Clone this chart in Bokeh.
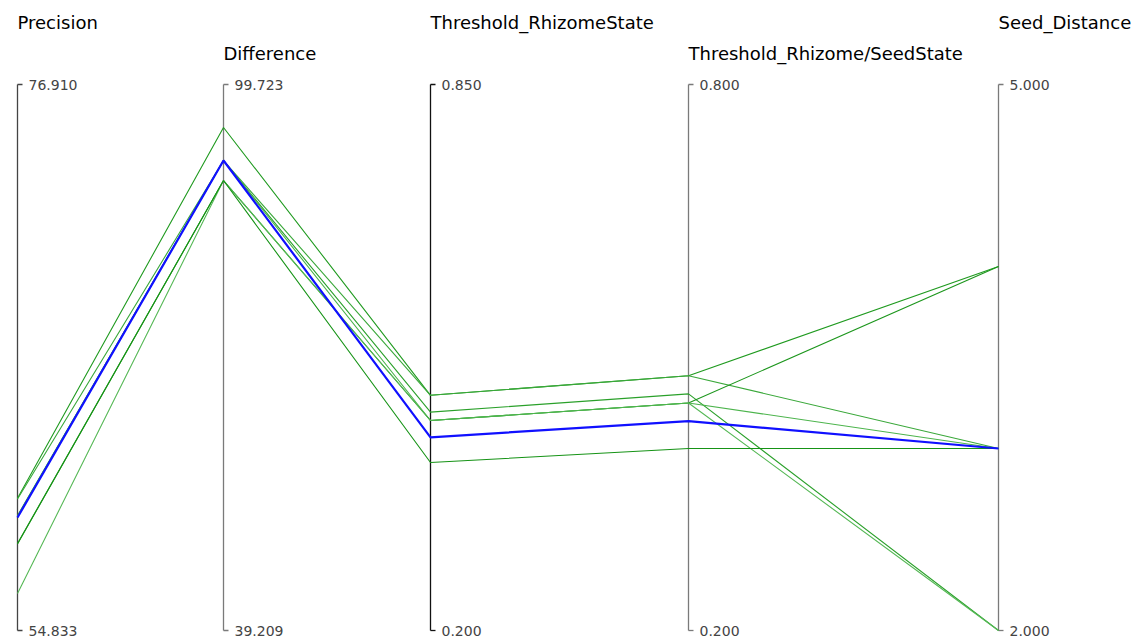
from bokeh.plotting import figure
from bokeh.models import Range1d, ColumnDataSource
from bokeh.core.properties import value
from bokeh.embed import file_html
from bokeh.resources import INLINE

# ---- data ----
dimensions = ["Precision", "Difference", "Threshold_RhizomeState",
              "Threshold_Rhizome/SeedState", "Seed_Distance"]
axis_min = [54.833, 39.209, 0.200, 0.200, 2.000]
axis_max = [76.910, 99.723, 0.850, 0.800, 5.000]
tick_top = ["76.910", "99.723", "0.850", "0.800", "5.000"]
tick_bottom = ["54.833", "39.209", "0.200", "0.200", "2.000"]

precision = [60.18, 60.15, 59.48, 59.40, 58.35, 56.33, 59.45, 58.33]
difference = [94.96, 91.30, 91.30, 91.30, 89.08, 89.08, 91.30, 89.08]
threshold_rhizome = [0.48, 0.48, 0.46, 0.43, 0.45, 0.45, 0.45, 0.40]
threshold_rhizome_seed = [0.48, 0.48, 0.46, 0.43, 0.45, 0.45, 0.45, 0.40]
seed_distance = [4.0, 3.0, 2.0, 3.0, 4.0, 2.0, 3.0, 3.0]
highlighted = [False, False, False, True, False, False, False, False]

# ---- layout / style ----
W, H = 1144, 640
X0 = 17            # page x of first axis
TOP, BOT = 84, 630  # page y of axis top / bottom
U = BOT - TOP
axis_x = [0, 206, 413, 671, 981]          # horizontal axis positions (px from first axis)
header_y_top = (BOT - 22) / U
header_y_low = (BOT - 53) / U
green_colors = ["#1f9a1f", "#3aa83a", "#2aa02a", None, "#1c961c", "#55b855", "#4cb44c", "#169316"]
axis_colors = ["#444444", "#7a7a7a", "#111111", "#7a7a7a", "#7a7a7a"]

p = figure(width=W, height=H, output_backend="svg", toolbar_location=None,
           x_range=Range1d(-X0, W - X0), y_range=Range1d(-(H - BOT) / U, 1 + TOP / U),
           min_border=0, outline_line_color=None)
p.xaxis.visible = False
p.yaxis.visible = False
p.xgrid.visible = False
p.ygrid.visible = False
p.background_fill_color = "white"
p.border_fill_color = "white"

columns = [precision, difference, threshold_rhizome, threshold_rhizome_seed, seed_distance]

def norm(v, i):
    return (v - axis_min[i]) / (axis_max[i] - axis_min[i])

# axes
for i, ax in enumerate(axis_x):
    p.segment(x0=[ax], y0=[0], x1=[ax], y1=[1], line_color=axis_colors[i], line_width=1.3)
    p.segment(x0=[ax, ax], y0=[1, 0], x1=[ax + 5, ax + 5], y1=[1, 0],
              line_color=axis_colors[i], line_width=1.3)

# data lines
g_xs, g_ys, g_cols = [], [], []
b_xs, b_ys = [], []
for r in range(len(precision)):
    ys = [norm(columns[i][r], i) for i in range(len(columns))]
    if highlighted[r]:
        b_xs.append(axis_x)
        b_ys.append(ys)
    else:
        g_xs.append(axis_x)
        g_ys.append(ys)
        g_cols.append(green_colors[r])

p.multi_line(xs="xs", ys="ys", line_color="c", line_width=1.1,
             source=ColumnDataSource(dict(xs=g_xs, ys=g_ys, c=g_cols)))
p.multi_line(xs=b_xs, ys=b_ys, line_color="#1010ff", line_width=2.2)

# headers
hy = [header_y_top if i % 2 == 0 else header_y_low for i in range(len(dimensions))]
p.text(x=axis_x, y=hy, text=dimensions, text_font=value("DejaVu Sans"),
       text_font_size="18px", text_color="#000000", text_baseline="middle", text_align="left")

# tick labels
tx = [a + 11 for a in axis_x]
p.text(x=tx, y=[1] * 5, text=tick_top, text_font=value("DejaVu Sans"),
       text_font_size="14px", text_color="#444444", text_baseline="middle", text_align="left")
p.text(x=tx, y=[0.0] * 5, text=tick_bottom, text_font=value("DejaVu Sans"),
       text_font_size="14px", text_color="#444444", text_baseline="middle", text_align="left")

open("out.html", "w").write(file_html(p, INLINE))
